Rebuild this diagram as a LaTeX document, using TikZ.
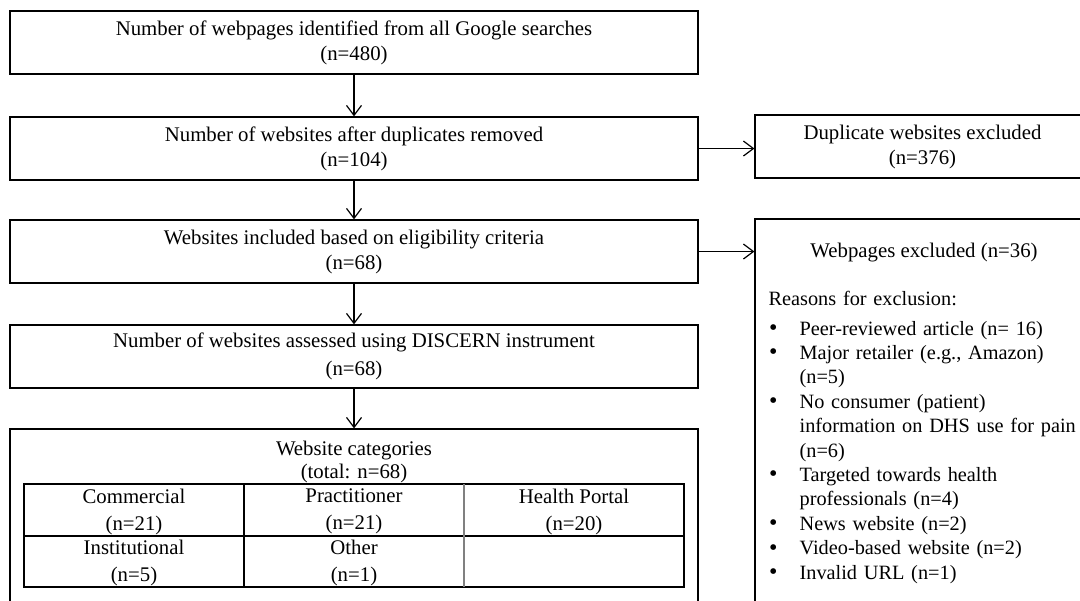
\documentclass[tikz,border=0pt]{standalone}
\usepackage{fontspec}
\setmainfont{Liberation Serif}
\usetikzlibrary{arrows.meta}
\newcommand{\exclitem}[1]{\noindent\hangindent=15.5pt\hangafter=1\makebox[15.5pt][l]{\hspace{0.2pt}\raisebox{-0.2pt}{\large\textbullet}}#1\par}
\begin{document}
\begin{tikzpicture}[x=0.5pt,y=-0.5pt,line width=0.6pt,
  flowbox/.style={draw, minimum width=344pt, minimum height=31.5pt, inner sep=0pt, align=center, font=\fontsize{10.4}{12.5}\selectfont},
  sidebox/.style={draw, minimum width=167.5pt, inner sep=0pt, align=center, font=\fontsize{10.4}{12.5}\selectfont},
  cell/.style={align=center, font=\fontsize{10.4}{13.5}\selectfont},
  arr/.style={-{Straight Barb[length=5pt,width=7.5pt]}}]
\clip (0,0) rectangle (1080,600); % edit here for the page size
% left column
\node[flowbox] (search) at (354,42.5) {Number of webpages identified from all Google searches\\(n=480)};
\node[flowbox] (dedup) at (354,148.5) {Number of websites after duplicates removed\\(n=104)};
\node[flowbox] (eligible) at (354,251.5) {Websites included based on eligibility criteria\\(n=68)};
\node[flowbox, font=\fontsize{10.4}{14}\selectfont] (discern) at (354,356.5) {Number of websites assessed using DISCERN instrument\\(n=68)};
\node[flowbox, minimum height=95.5pt] (categ) at (354,524.5) {};
\node[cell, font=\fontsize{10.4}{11.5}\selectfont] (categtitle) at (354,461.5) {Website categories\\(total: n=68)};
% right column
\node[sidebox, minimum height=31.5pt] (dupl) at (922.5,146.5) {Duplicate websites excluded\\(n=376)};
\node[sidebox, minimum height=200.5pt] (excl) at (922.5,419.5) {};
\node[cell] (excltitle) at (924,253) {Webpages excluded (n=36)};
\node[anchor=north west, inner sep=0pt, text width=160pt, align=left, font=\fontsize{10.15}{12.2}\selectfont] (exclreasons) at (768,291) {%
Reasons for exclusion:\par\vspace{2.4pt}
\exclitem{Peer-reviewed article (n= 16)}
\exclitem{Major retailer (e.g., Amazon)\newline(n=5)}
\exclitem{No consumer (patient)\newline information on DHS use for pain\newline(n=6)}
\exclitem{Targeted towards health\newline professionals (n=4)}
\exclitem{News website (n=2)}
\exclitem{Video-based website (n=2)}
\exclitem{Invalid URL (n=1)}};
% arrows
\draw[arr] (search) -- (dedup);
\draw[arr] (dedup) -- (eligible);
\draw[arr] (eligible) -- (discern);
\draw[arr] (discern) -- (categ);
\draw[arr] (dedup.east) -- (dedup.east -| dupl.west);
\draw[arr] (eligible.east) -- (eligible.east -| excl.west);
% table of categories
\draw (24,484) rectangle (684,587);
\draw (24,536) -- (684,536);
\draw (244,484) -- (244,587);
\draw[gray] (464,484) -- (464,587); % edit here for the lighter divider
\foreach \x/\y/\t/\n [count=\i] in {134/511.5/Commercial/21, 354/511.5/Practitioner/21, 574/511.5/Health Portal/20, 134/563/Institutional/5, 354/563/Other/1}
\node[cell] (cell\i) at (\x,\y) {\t\\(n=\n)};
\end{tikzpicture}
\end{document}
